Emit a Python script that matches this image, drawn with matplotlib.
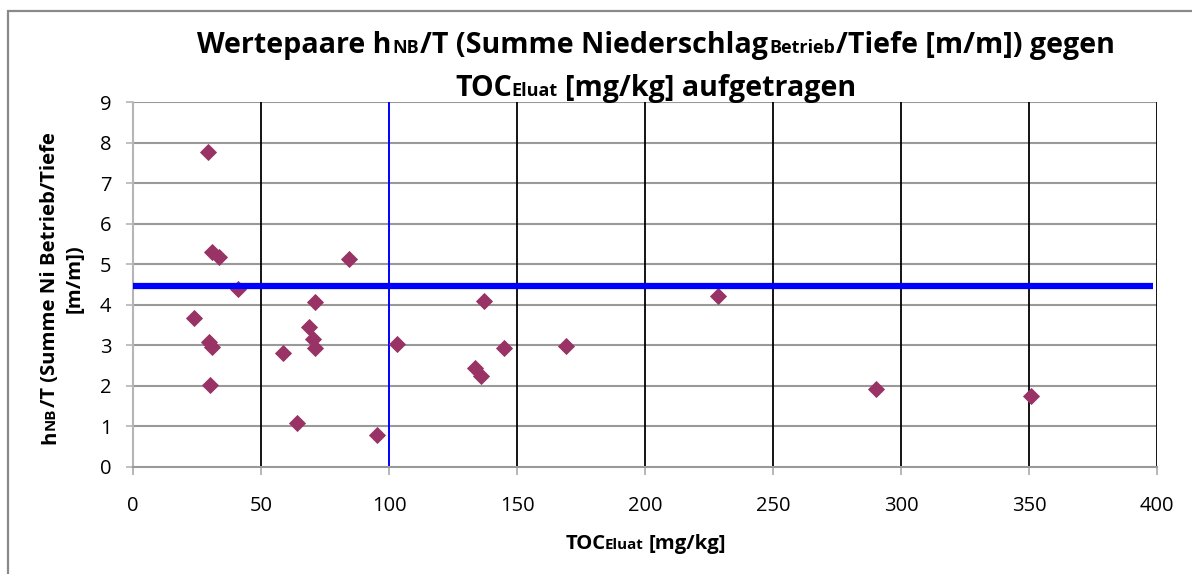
import matplotlib
matplotlib.use("Agg")
import matplotlib.pyplot as plt
from matplotlib.patches import Rectangle

# data
toc = [29.4, 30.7, 33.7, 41.1, 23.8, 29.8, 30.7, 30.1,
       84.3, 71.2, 68.9, 70.4, 71.2, 58.5, 64.2, 95.3, 103.2,
       137.2, 144.8, 169.1, 133.6, 135.8,
       228.4, 290.2, 350.7]
hnb_t = [7.76, 5.31, 5.18, 4.38, 3.68, 3.07, 2.97, 2.01,
         5.14, 4.08, 3.44, 3.16, 2.93, 2.81, 1.09, 0.79, 3.03,
         4.09, 2.94, 2.98, 2.43, 2.24,
         4.21, 1.93, 1.76]

limit_hnb = 4.46      # horizontal blue line
limit_toc = 100       # vertical blue line
limit_line_end = 398.5

x_ticks = [0, 50, 100, 150, 200, 250, 300, 350, 400]
y_ticks = [0, 1, 2, 3, 4, 5, 6, 7, 8, 9]

FONT = "Open Sans"
MARKER_COL = "#993366"
W, H = 1192, 574

fig = plt.figure(figsize=(W / 100, H / 100), dpi=100)
renderer = fig.canvas.get_renderer()

# outer chart frame
fig.patches.append(Rectangle((8 / W, -0.02), 1.1, 1 - 10.7 / H + 0.02,
                             transform=fig.transFigure, fill=False,
                             edgecolor="#898989", lw=1.6, clip_on=False))

ax = fig.add_axes([133 / W, 1 - 467 / H, (1157 - 133) / W, (467 - 102) / H])
ax.set_xlim(x_ticks[0], x_ticks[-1])
ax.set_ylim(y_ticks[0], y_ticks[-1])

# gridlines
for yv in y_ticks[1:]:
    ax.axhline(yv, color="#999999", lw=1.5, zorder=1)
for xv in x_ticks[1:]:
    if xv != limit_toc:
        ax.axvline(xv, color="black", lw=1.3, zorder=1)

ax.axvline(limit_toc, color="#0000ff", lw=1.4, zorder=2)

ax.plot(toc, hnb_t, linestyle="none", marker="D", ms=8.4,
        color=MARKER_COL, mec=MARKER_COL, mew=0.6, zorder=3, clip_on=False)

ax.plot([0, limit_line_end], [limit_hnb, limit_hnb], color="#0000ff",
        lw=4.5, solid_capstyle="butt", zorder=4, clip_on=False)

for side in ["top", "right"]:
    ax.spines[side].set_visible(False)
ax.spines["left"].set_color("#b5b5b5")
ax.spines["left"].set_linestyle((0, (1, 1)))
ax.spines["left"].set_linewidth(1.5)
ax.spines["bottom"].set_color("#999999")
ax.spines["bottom"].set_linewidth(1.5)

ax.set_xticks(x_ticks)
ax.set_yticks(y_ticks)
ax.tick_params(axis="x", length=6, width=1.2, color="#aaaaaa", pad=15,
               labelsize=14.5, labelcolor="black")
ax.tick_params(axis="y", length=5, width=1.2, color="#b5b5b5", pad=10.5,
               labelsize=14.5, labelcolor="black")
for lab in ax.get_xticklabels() + ax.get_yticklabels():
    lab.set_family(FONT)


def measure(s, size):
    t = fig.text(0, 0, s, fontsize=size, fontweight="bold", family=FONT)
    w = t.get_window_extent(renderer=renderer).width
    t.remove()
    return w


def rich_text(parts, cx, cy, rotation=0):
    # parts: (text, size, gap before in px); cx, cy = centre of the baseline
    # in pixels from the top-left corner
    widths = []
    for s, size, gap in parts:
        if s.startswith(" "):
            gap += measure("a a", size) - measure("aa", size)
        widths.append((gap, measure(s.strip(), size)))
    total = sum(g + w for g, w in widths) - widths[0][0]
    pos = -total / 2 - widths[0][0]
    for (s, size, _), (g, w) in zip(parts, widths):
        pos += g
        if rotation == 0:
            fig.text((cx + pos) / W, 1 - cy / H, s.strip(), ha="left",
                     va="baseline", fontsize=size, fontweight="bold",
                     family=FONT)
        else:
            fig.text(cx / W, 1 - (cy - pos) / H, s.strip(), ha="left",
                     va="baseline", rotation=90, rotation_mode="anchor",
                     fontsize=size, fontweight="bold", family=FONT)
        pos += w


# title
rich_text([("Wertepaare h", 20.6, 0), ("NB", 13, 1), ("/T (Summe Niederschlag", 20.6, 1),
           ("Betrieb", 13, 1), ("/Tiefe [m/m]) gegen", 20.6, 1)], 656, 53)
rich_text([("TOC", 20.6, 0), ("Eluat", 13, -1), (" [mg/kg] aufgetragen", 20.6, 0)], 656, 96)

# axis labels
rich_text([("TOC", 14.6, 0), ("Eluat", 10.8, -1), (" [mg/kg]", 14.6, 0)], 646, 549)
rich_text([("h", 14.6, 0), ("NB", 10.8, 1), ("/T (Summe Ni Betrieb/Tiefe", 14.6, 1)],
          55, 288, rotation=90)
rich_text([("[m/m])", 14.6, 0)], 80, 279, rotation=90)

fig.savefig("out.png", dpi=100)
